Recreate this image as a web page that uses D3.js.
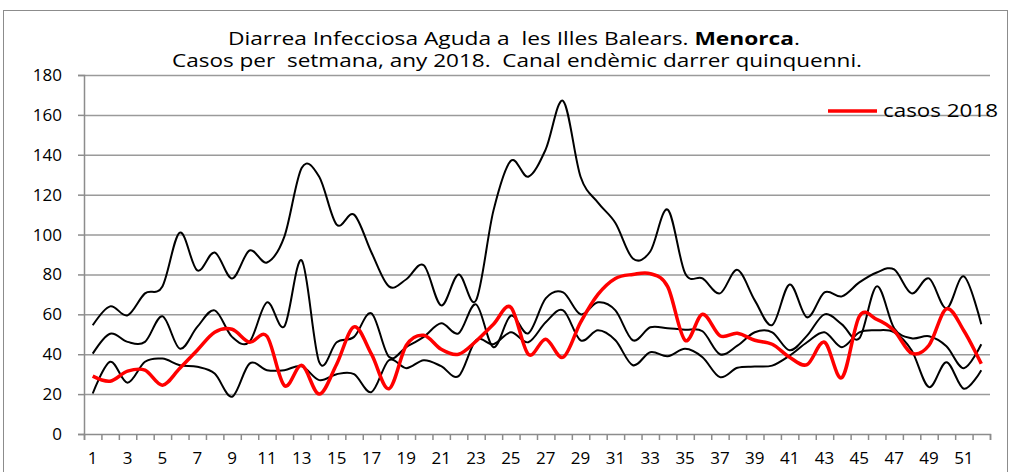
<!DOCTYPE html>
<html>
<head>
<meta charset="utf-8">
<script src="https://cdn.jsdelivr.net/npm/d3@7"></script>
<style>
  body { margin: 0; background: #fff; }
  svg text { font-family: "Open Sans", "Noto Sans", sans-serif; fill: #000; white-space: pre; }
</style>
</head>
<body>
<div id="chart"></div>
<script>
// weeks 1..52
var weeks = d3.range(1, 53);

// endemic channel, three black lines
var maxLine = [54.5, 64, 59.5, 70.5, 74, 101, 82, 91, 78, 92, 86, 99, 133.5, 129, 105, 110, 91, 74, 77.6, 84.6,
    64.5, 80, 67, 112, 137, 129, 142.7, 167, 129, 116, 105.8, 88, 91.5, 112.5, 80.6, 78, 70.5, 82.3, 67, 54.6,
    75, 58.5, 71, 69, 76, 81, 82.5, 70.5, 78, 63, 79, 55];
var midLine = [40.3, 50.3, 46.2, 46.2, 59, 42.8, 53.7, 62, 48.7, 46.2, 66, 54, 87, 36, 46, 48.7, 60.5, 38.7, 43.6, 48.7,
    55.5, 50.5, 65, 43.5, 59.3, 50.5, 68, 71, 60, 66, 62, 47, 53.5, 53, 52.3, 51.5, 40, 44.3, 51, 51,
    42, 49.3, 60, 55, 48, 74, 53, 48, 49, 44, 33, 45];
var minLine = [20.3, 36.2, 25.7, 36.2, 37.8, 34.5, 33.7, 30.3, 18.7, 35.3, 32, 32, 34, 27, 30, 30, 21, 37, 33, 37,
    34, 29, 47, 45, 51, 46, 56, 62, 47, 52, 47, 34.5, 41, 39, 42.7, 38.5, 28.5, 33.2, 33.8, 34.3,
    39.3, 46, 51, 43.5, 51, 52, 51, 42, 23.5, 36, 22.7, 32];
// casos 2018
var casos2018 = [29, 26.5, 31.5, 32, 24.5, 33, 42, 51, 52.5, 46, 49, 24.3, 34.4, 20, 35, 53.7, 40, 22.7, 44.5, 49.5,
    42.5, 40, 46.5, 55, 63.5, 40, 47.5, 38.5, 56, 70, 78, 80, 80.4, 73.9, 47, 60, 49.3, 50.5, 47, 45,
    38.5, 34.8, 46, 28.3, 59, 57.5, 51.8, 40.5, 44.5, 62.7, 51.8, 35.2];

var yTicks = d3.range(0, 181, 20);
var xLabels = weeks.filter(function(w) { return w % 2 == 1; });

var W = 1012, H = 472;
var plot = {left: 84, right: 990, top: 75, bottom: 434};

var svg = d3.select("#chart").append("svg")
    .attr("width", W)
    .attr("height", H);

// outer frame
svg.append("rect")
    .attr("x", 3.5).attr("y", 10.5)
    .attr("width", 1004).attr("height", 480)
    .attr("fill", "none")
    .attr("stroke", "#8c8c8c")
    .attr("stroke-width", 1);

var x = d3.scaleBand().domain(weeks).range([plot.left, plot.right]).padding(0);
var xEdge = d3.scaleLinear().domain([0, 52]).range([plot.left, plot.right]);
var y = d3.scaleLinear().domain([0, 180]).range([plot.bottom, plot.top]);

// gridlines
svg.append("g")
    .attr("transform", "translate(" + plot.left + ",0)")
    .call(d3.axisLeft(y).tickValues(yTicks.slice(1)).tickSize(-(plot.right - plot.left)).tickFormat(""))
    .call(function(g) {
        g.select(".domain").remove();
        g.selectAll("line").attr("stroke", "#9a9a9a").attr("stroke-width", 1.5);
    });

// y axis
svg.append("g")
    .attr("transform", "translate(" + plot.left + ",0)")
    .call(d3.axisLeft(y).tickValues(yTicks).tickSize(6).tickPadding(16))
    .call(function(g) {
        g.select(".domain").attr("stroke", "#8c8c8c").attr("stroke-width", 1.5);
        g.selectAll("line").attr("stroke", "#8c8c8c").attr("stroke-width", 1.5);
        g.selectAll("text").attr("font-size", 17).attr("font-family", null);
    });

// x axis: ticks between categories
svg.append("g")
    .attr("transform", "translate(0," + plot.bottom + ")")
    .call(d3.axisBottom(xEdge).tickValues(d3.range(0, 53)).tickSize(6).tickFormat(""))
    .call(function(g) {
        g.select(".domain").attr("stroke", "#8c8c8c").attr("stroke-width", 1.5);
        g.selectAll("line").attr("stroke", "#8c8c8c").attr("stroke-width", 1.5);
    });

svg.append("g")
    .attr("transform", "translate(0," + plot.bottom + ")")
    .call(d3.axisBottom(x).tickValues(xLabels).tickSize(0).tickPadding(18))
    .call(function(g) {
        g.select(".domain").remove();
        g.selectAll("text").attr("font-size", 17).attr("font-family", null);
    });

var line = d3.line()
    .x(function(d, i) { return x(weeks[i]) + x.bandwidth() / 2; })
    .y(function(d) { return y(d); })
    .curve(d3.curveCardinal.tension(0));

[maxLine, midLine, minLine].forEach(function(s) {
    svg.append("path")
        .datum(s)
        .attr("d", line)
        .attr("fill", "none")
        .attr("stroke", "#000")
        .attr("stroke-width", 2);
});

svg.append("path")
    .datum(casos2018)
    .attr("d", line)
    .attr("fill", "none")
    .attr("stroke", "#ff0000")
    .attr("stroke-width", 3.5);

// title
var t1 = svg.append("text")
    .attr("x", 514).attr("y", 45)
    .attr("text-anchor", "middle")
    .attr("font-size", 18)
    .attr("textLength", 572)
    .attr("lengthAdjust", "spacingAndGlyphs");
t1.append("tspan").text("Diarrea Infecciosa Aguda a  les Illes Balears. ");
t1.append("tspan").attr("font-weight", "bold").text("Menorca");
t1.append("tspan").text(".");

svg.append("text")
    .attr("x", 517).attr("y", 67)
    .attr("text-anchor", "middle")
    .attr("font-size", 18)
    .attr("textLength", 690)
    .attr("lengthAdjust", "spacingAndGlyphs")
    .text("Casos per  setmana, any 2018.  Canal endèmic darrer quinquenni.");

// legend
svg.append("line")
    .attr("x1", 828).attr("x2", 877)
    .attr("y1", 111).attr("y2", 111)
    .attr("stroke", "#ff0000")
    .attr("stroke-width", 3.5);
svg.append("text")
    .attr("x", 883).attr("y", 117)
    .attr("font-size", 18)
    .attr("textLength", 115)
    .attr("lengthAdjust", "spacingAndGlyphs")
    .text("casos 2018");
</script>
</body>
</html>
